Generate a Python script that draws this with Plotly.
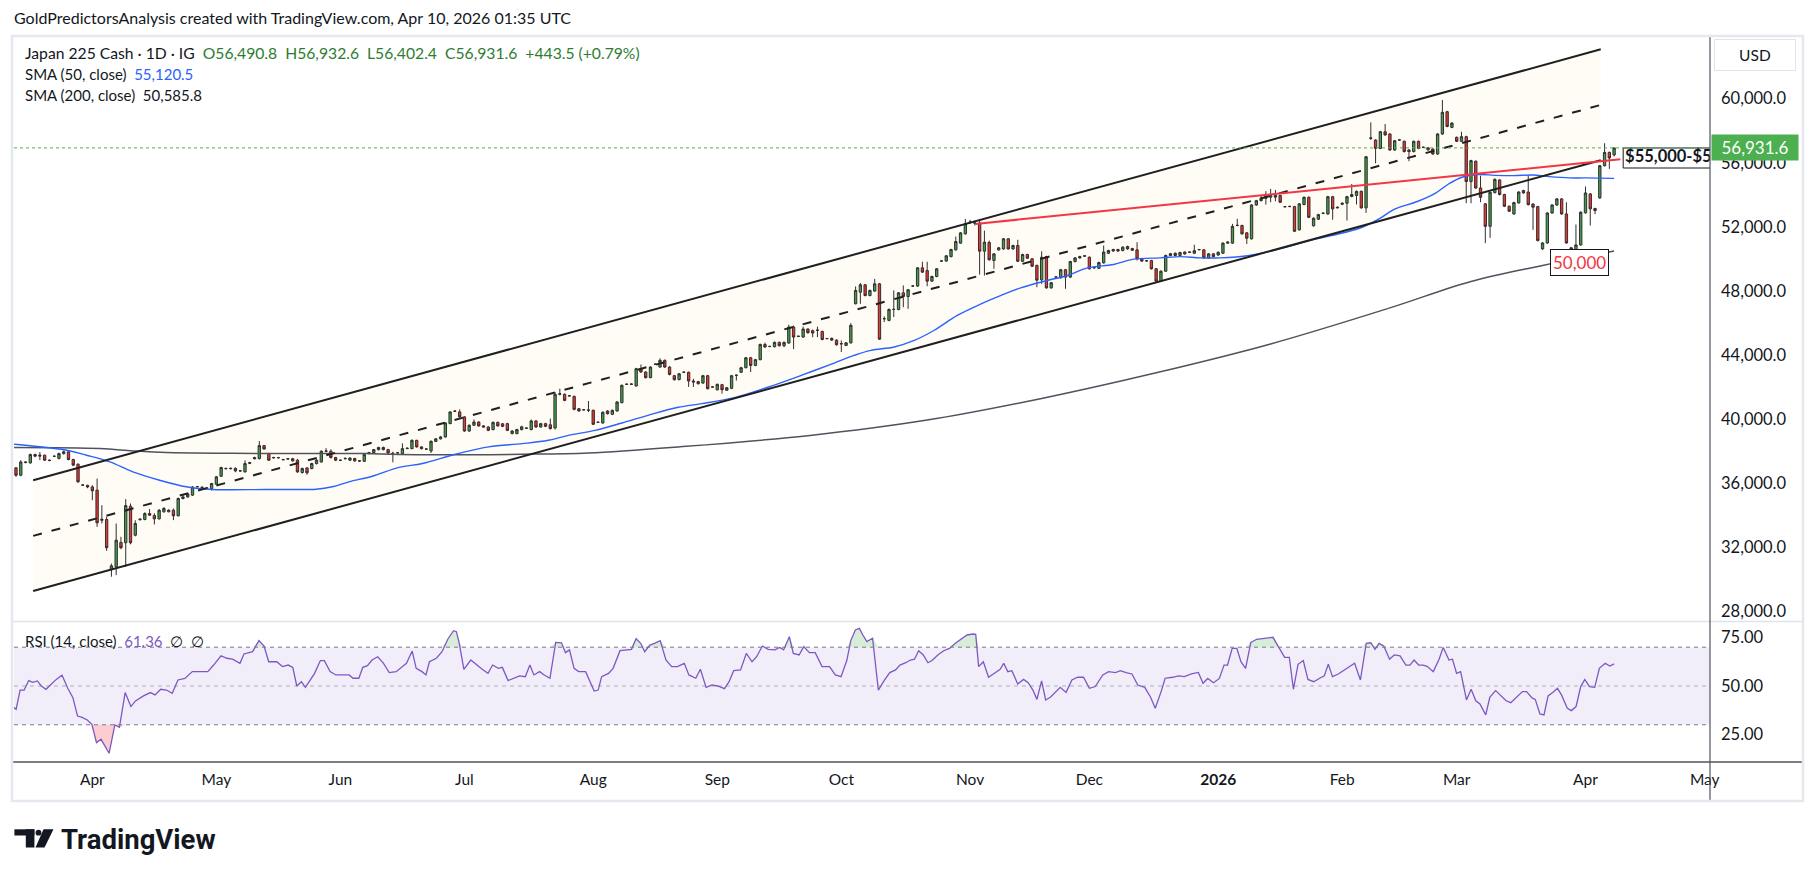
import plotly.graph_objects as go
import pandas as pd

# ---------------- data ----------------
opens = [36970,36510,37300,37280,37800,37700,37760,37450,37700,37560,37860,37970,37490,37200,35890,35880,35780,35580,33700,33750,
30640,30800,32320,32300,34580,32770,33730,33750,34120,34000,33790,34230,34230,34330,33980,35060,35160,35270,35790,35760,
35720,35680,35950,36450,36940,36920,36940,36780,36720,37300,37620,37550,38360,37870,37620,37600,37490,37520,37540,37450,
36680,36970,36930,37240,37340,38010,38010,37610,37450,37540,37450,37550,37410,37380,37860,37920,38110,38240,38110,37880,
37900,37860,38200,38170,38690,38280,38150,38030,38620,38780,38900,39730,40500,40460,40150,39270,39630,39830,39590,39520,
39360,39810,39720,39730,39110,39110,39360,39440,39360,39900,39520,39730,39660,39460,41560,41560,41480,41430,40660,40600,
40560,40560,39820,39770,40520,40310,40520,41040,42180,42180,42080,43160,42950,42600,43430,43260,43680,43260,42720,42480,
42930,42930,42390,42350,42260,42720,42020,41840,42160,41810,41930,42740,42930,43220,43840,43360,43720,44670,44550,44530,
44800,44590,44760,45750,45170,45130,45630,45530,45550,45480,45030,45050,44940,44720,44610,44770,47210,47930,48390,47720,
48000,48450,46270,46170,46850,46850,47890,47660,48310,48310,49450,49280,48620,48910,49870,49870,50150,50570,50990,51570,
52290,52230,52250,50490,51030,49910,50570,50630,51260,50630,50840,49860,50280,50010,49600,48700,50150,48200,48870,48830,
49330,48870,49840,50070,50200,50110,49450,49420,49760,50360,50500,50590,50530,50780,50650,50570,50030,49880,49900,49390,
48620,49240,50220,50360,50220,50430,50420,50360,50580,50570,50070,50320,50250,50360,50990,50990,52090,52090,51630,51260,
53370,53640,53790,53860,53860,53960,53270,53270,53270,51820,53400,53850,52070,52480,52840,52810,53890,53230,53410,53480,
53900,53960,54220,53190,57560,57420,56900,57940,57800,56800,57420,57340,56800,56700,57340,56960,56930,56860,56550,57800,
59190,58210,57590,57340,57630,54830,56100,54430,53440,52040,54140,54930,54020,53290,52810,53500,54270,54180,53430,53270,
50630,51000,52870,53370,53750,52810,50700,50320,50880,52880,54060,53150,53810,55820,56650,56490.8]
highs = [37030,37450,37380,37860,37860,37960,37800,37500,37740,37920,38050,38070,37540,37250,35940,35920,35890,36300,34640,33920,
31000,33500,32670,35020,34750,33700,33820,34200,34400,34140,34400,34520,34380,34440,35120,35320,35380,35830,35840,35830,
35770,36040,36470,37040,36980,36990,37000,36840,37440,37350,37660,38650,38400,37900,37660,37650,37530,37580,37600,37520,
36990,37010,37290,37520,38060,38200,38120,37660,37490,37620,37640,37600,37460,37850,37970,38150,38290,38300,38160,37980,
37950,38500,38250,38740,38720,38320,38190,38680,38830,38960,39810,40500,40560,40620,40200,39680,39990,39880,39640,39570,
39860,39860,39770,39780,39320,39410,39600,39500,39990,39950,39780,39780,40050,41700,41910,41620,41520,41480,40700,40640,
41140,40610,39860,40490,40570,40610,41130,42170,42230,42240,43210,43420,43000,43310,43480,43800,43730,43310,42770,42890,
42980,42980,42530,42400,42770,42770,42060,42230,42210,42020,42770,42790,43270,43890,43890,43770,44720,44780,44590,44850,
44850,44850,45900,45850,45220,45780,45680,45600,45780,45530,45080,45100,44990,44920,44820,46000,48290,48500,48440,48090,
48760,48500,46420,46920,48040,47940,48350,48130,48360,49500,49830,49830,48960,49440,49920,50250,50640,51400,51680,52500,
52440,52400,52500,51770,51150,50370,50750,51310,51310,50890,51200,50330,50330,50060,49650,50480,50200,48570,48920,49380,
49380,49890,50120,50200,50240,50160,49500,49830,50840,50580,50640,50640,50790,50830,50700,51050,50080,49930,49950,49440,
49290,50270,50380,50410,50450,50480,50470,50890,50630,50620,50370,50370,50470,51040,51100,52190,52510,52140,51680,53420,
53690,53950,54230,54370,54310,54010,53310,53320,53320,53490,53900,53900,52600,52820,52900,53940,53940,53280,53530,53940,
54680,54270,54270,56430,58520,57470,57990,58420,57850,57430,57470,57390,56850,57390,57390,57010,56980,56910,57850,59920,
59240,58530,57640,57940,57690,56190,56150,55200,53490,54210,55020,54980,54070,53340,53570,54230,54320,55200,53480,53320,
51050,52920,53420,53800,53800,53540,50750,52150,52970,54520,54110,53200,55870,57220,56700,56932.6]
lows = [36410,36450,37260,37240,37640,37460,37400,37380,37650,37500,37800,37440,37080,36040,35840,35700,34950,33290,33500,31800,
30180,30280,31900,30800,32200,32700,33700,33700,33980,33440,33750,34180,34200,33710,33940,35000,35100,35220,35760,35690,
35650,35550,35900,36400,36880,36870,36700,36720,36680,37200,37500,37490,38100,37400,37560,37560,37440,37480,37360,36660,
36620,36540,36880,37180,37300,37950,37560,37390,37400,37490,37400,37350,37360,37340,37820,37880,38060,38060,37860,37320,
37860,37820,38130,38130,38230,38120,38100,37900,38580,38740,38860,39700,40460,40100,39220,39220,39580,39540,39480,39260,
39310,39540,39510,39260,39060,39060,39300,39400,39310,39470,39480,39510,39360,39360,41490,41130,41420,40560,40470,40550,
40450,39640,39770,39730,40300,40260,40480,41000,42140,42140,42040,42900,42550,42560,43390,43220,43210,42740,42420,42430,
42890,42020,42020,42170,42220,41860,41970,41800,41600,41770,41880,42420,42890,43180,42950,43310,43680,44460,44500,44480,
44540,44500,44710,44380,45130,45080,45350,45120,45130,44930,44990,44890,44600,44200,44560,44720,47170,47210,47670,47670,
47950,44950,46070,46120,46380,46800,46990,46890,48270,48260,49130,48300,48570,48860,49830,49830,50100,50520,50950,51520,
52190,52090,49030,48970,49900,49390,50520,50580,50580,50580,49810,49810,50000,49500,48240,48450,48150,48150,48830,48780,
48140,48820,49790,50020,50140,49340,49400,49370,49710,50310,50450,50450,50480,50580,50500,49910,49820,49840,49340,48570,
48570,49190,50170,50170,50170,50270,50380,50310,50540,50020,50020,50100,50200,50310,50940,50940,52040,51520,50940,51210,
53320,53590,53390,53540,53600,53490,53220,53230,51680,51770,53350,52550,52020,52430,52800,52760,52450,53150,53360,52400,
53850,53400,53140,52880,57430,55970,56850,57690,56750,56750,57380,56650,56100,56650,56850,56920,56760,56500,56500,57750,
58220,58160,57290,57290,53480,53480,54380,53540,50990,51320,54090,53970,53240,52930,52760,53450,54070,53340,51820,51100,
50570,50950,52820,53320,52760,50950,50570,50270,50830,52830,52090,52800,53760,55770,55620,56402.4]
closes = [36510,37340,37330,37800,37700,37760,37450,37430,37690,37860,37970,37490,37140,36100,35900,35780,35540,33540,33760,31990,
30860,32460,31990,34620,32300,33500,33770,34120,34020,33790,34330,34440,34330,33980,35060,35160,35330,35780,35800,35740,
35700,35990,36410,36990,36920,36940,36780,36790,37240,37260,37540,38360,38150,37450,37600,37610,37480,37540,37410,36720,
36930,36660,37240,37450,38010,38020,37610,37450,37440,37560,37580,37410,37400,37800,37920,38110,38240,38110,37900,37870,
37910,38170,38180,38690,38280,38170,38140,38630,38780,38900,39770,40460,40510,40150,39270,39630,39830,39590,39520,39310,
39810,39590,39560,39310,39270,39360,39530,39450,39900,39520,39730,39560,39420,41560,41600,41180,41460,40620,40520,40590,
40580,39690,39810,40440,40350,40560,41080,42120,42190,42200,43160,42950,42600,43260,43440,43680,43260,42800,42470,42840,
42940,42390,42330,42220,42720,41910,42010,42180,41850,41970,42720,42750,43220,43840,43360,43720,44670,44510,44540,44800,
44590,44800,45750,45130,45180,45630,45400,45380,45560,44980,45040,44940,44650,44710,44770,45860,48040,48390,47720,48040,
48450,45000,46280,46850,46860,47890,47660,48080,48320,49450,49180,48620,48910,49390,49880,50200,50590,51090,51630,52190,
52300,52250,50490,51050,49950,50320,50700,51260,50630,50840,49860,50280,50050,49550,48680,50110,48200,48520,48880,49330,
48870,49840,50070,50150,50180,49390,49460,49780,50430,50530,50590,50500,50740,50630,50550,50010,49870,49890,49390,48620,
49240,50220,50330,50220,50400,50320,50430,50520,50590,50070,50320,50150,50420,50990,51050,52040,52100,51570,51300,53370,
53640,53790,53910,53960,53960,53540,53260,53280,51730,53440,53850,52600,52540,52770,52860,53890,53130,53200,53480,53890,
54020,54220,53190,56380,57530,56900,57940,57740,56800,57380,57430,56700,56700,57340,56900,56970,56810,56550,57800,59150,
58270,58480,57340,57630,54830,56140,54430,53850,52040,54160,54970,54020,53290,52980,53520,54180,54120,53390,53230,51150,
51000,52870,53370,53750,52810,51000,50620,50880,52920,54120,53130,53020,55820,56650,56300,56931.6]

sma50_pos = [-0.4,10.6,14.8,19.7,24.5,30.1,35.7,41.3,52.4,58,62.9,66.3,69.8,74.7,80.3,85.2,92.1,99.1,106.1,111.6,
115.8,121.4,127,132.5,138.8,143.7,150.6,157.6,164.6,171.5,175.7,179.2,184.1,188.3,192.4,197.3,202.3,206.5,210.6,216.2,
220.4,224.6,230.1,234.3,239.9,244.1,248.3,252.4,258.5,264.8,271.7,278.7,282.2,285.7,289.1,293.3,297.5,300.3,303.1,306.5,
310,314,318,321.4,325.6,329.1,335]
sma50_val = [38440,38070,37760,37340,36720,36200,35790,35620,35620,35620,35640,35790,36100,36450,37000,37240,37820,38280,38480,38690,
39000,39310,39770,40250,40750,40975,41350,42000,42740,43510,43990,44300,44510,44920,45540,46480,47200,47730,48200,48660,
48970,49450,49660,49990,50070,50150,50070,50070,50220,50630,51190,51670,51980,52500,53130,53540,54100,54680,55100,55270,
55220,55200,55240,55140,55060,55060,55030]

sma200_pos = [-0.4,17.6,24.5,31.5,45.4,59.4,73.3,80.3,106.1,120,138.8,166,191,215,239,263,288,305,320,335]
sma200_val = [38240,38175,38030,37925,37880,37860,37860,37800,37820,37900,38276,38980,39950,41300,42900,44700,46950,48600,49600,50500]

rsi_pos = [-0.70,0.02,0.86,1.70,2.67,3.51,4.47,5.31,6.28,7.24,8.44,9.65,10.85,11.93,12.90,13.74,14.94,15.90,16.87,17.83,
18.67,19.51,20.72,21.68,22.88,24.09,25.05,26.73,28.18,29.14,30.34,31.55,32.75,33.95,35.40,36.96,38.77,40.21,41.42,42.98,
44.18,45.39,46.95,47.79,49.60,50.92,52.00,52.97,54.65,55.86,57.06,58.02,58.86,59.83,60.67,62.59,63.80,64.64,65.84,67.05,
68.25,69.82,70.66,71.86,72.70,73.67,74.63,75.83,77.04,78.24,79.68,80.89,81.85,83.05,83.89,85.10,85.94,86.66,88.11,89.31,
90.51,91.72,92.32,92.92,93.88,95.33,96.53,97.73,98.94,99.90,101.10,101.95,103.15,104.35,105.56,106.76,107.72,108.56,109.77,110.73,
111.93,113.13,114.34,115.18,116.02,116.99,117.95,119.40,120.36,121.20,122.04,122.76,124.21,125.17,126.61,128.06,129.02,129.99,130.95,131.79,
132.87,133.84,135.04,136.24,137.44,138.65,140.09,141.05,142.50,143.46,144.66,145.87,147.07,148.51,149.48,150.44,151.88,153.09,154.29,155.25,
156.46,157.66,159.10,160.07,160.91,162.11,162.95,164.16,165.12,166.32,167.53,168.97,170.54,171.74,172.95,174.15,174.99,175.95,176.79,177.52,
178.36,179.56,180.77,181.97,183.17,184.38,
185.30,186.52,187.50,188.35,189.21,190.19,191.16,192.02,193.24,194.46,195.68,196.91,198.13,199.35,200.57,201.18,201.79,202.77,203.87,205.09,
206.31,207.05,207.90,208.76,209.98,211.20,212.18,213.16,214.01,214.99,215.84,216.82,217.68,218.90,220.12,221.34,222.56,223.78,225.01,226.23,
227.82,229.04,230.50,231.48,232.70,233.93,235.15,236.61,237.84,238.81,240.04,240.89,242.48,243.70,244.92,246.39,247.85,248.83,249.81,251.03,
252.25,253.23,253.96,254.94,255.92,256.77,257.75,258.85,260.07,261.66,263.49,264.71,265.94,266.91,267.77,268.75,269.84,270.82,272.04,273.27,
274.24,275.10,275.95,277.18,278.40,279.38,280.60,281.82,283.04,284.02,284.87,285.73,286.71,287.93,288.91,290.13,291.35,292.20,293.06,294.04,
295.01,295.87,297.09,298.31,299.17,300.39,301.12,301.98,302.83,304.05,305.03,306.01,306.87,308.09,308.94,310.16,311.14,312.36,313.34,314.56,
315.78,316.64,317.86,318.47,319.45,320.30,321.16,322.14,323.12,323.97,325.19,326.05,327.02,328.00,328.86,329.83,330.93,331.91,333.13,334.11,335.0]
rsi_val = [39.4,38.0,47.9,47.9,52.8,51.9,52.6,50.0,48.3,50.7,53.4,55.5,48.8,44.0,34.5,33.9,32.5,30.2,20.8,22.5,
18.7,15.3,29.9,28.7,46.6,39.4,42.3,44.9,46.6,45.4,48.3,47.9,46.2,53.1,53.9,57.4,57.4,57.4,60.8,65.6,
64.3,63.8,61.7,66.5,67.7,73.4,70.6,62.5,62.5,60.0,60.8,59.6,50.0,52.2,49.3,56.5,63.1,63.1,57.4,55.7,
55.7,55.7,54.0,54.0,59.6,60.5,63.4,65.1,61.7,56.9,57.4,60.0,61.7,68.0,59.1,57.4,55.7,62.5,64.3,67.7,
74.1,78.5,78.0,72.0,58.6,63.4,60.8,58.6,56.5,60.8,59.1,59.6,52.8,54.0,55.2,54.8,60.8,55.7,57.4,55.7,
54.0,72.5,72.3,67.2,68.6,59.1,57.4,57.4,52.2,47.4,47.9,54.8,56.5,59.1,68.2,68.6,68.9,74.4,72.0,67.7,
71.1,72.0,73.4,63.4,60.0,60.0,61.7,55.7,54.0,58.6,49.3,50.5,50.0,48.6,52.2,57.9,58.3,66.8,62.5,65.1,
70.6,68.9,68.6,69.9,68.6,75.4,66.8,66.0,70.3,67.2,67.2,60.0,60.0,55.7,54.8,63.1,73.4,78.9,79.7,76.3,
72.9,74.6,47.9,52.8,56.9,58.3,
60.8,62.0,63.4,63.8,68.2,66.0,62.0,63.1,66.0,68.2,69.4,72.0,74.1,76.3,76.8,76.6,60.0,62.5,54.5,56.5,
58.6,61.7,57.4,57.9,51.0,53.4,51.7,47.9,43.1,52.6,42.8,44.2,46.2,49.3,46.7,53.1,54.5,54.5,48.8,49.7,
55.7,57.4,56.9,57.9,56.9,56.2,50.5,49.3,44.2,38.5,47.1,54.0,54.5,55.2,54.8,56.2,57.0,51.4,53.9,51.7,
53.9,60.8,60.8,69.4,69.4,62.5,59.1,72.5,74.1,74.4,75.1,69.9,64.8,64.8,48.3,61.2,63.1,53.4,52.2,54.0,
55.2,61.3,54.8,56.2,58.3,60.0,61.7,53.1,72.0,72.3,68.9,72.0,70.6,63.8,66.0,65.5,60.8,60.8,63.4,60.8,
60.8,60.0,57.4,63.8,69.9,63.4,63.8,56.5,57.4,42.8,48.3,42.4,40.7,35.1,44.2,47.6,45.4,42.4,41.4,44.2,
47.1,47.1,43.7,43.1,35.6,35.1,44.9,46.6,48.8,45.4,38.5,37.3,39.4,49.7,53.4,49.7,49.3,59.1,61.7,60.3,61.4]

# trend-channel drawing anchors (bar position, price)
channel_pos = [3.6, 332.2]
channel_upper = [36200, 63080]
channel_mid = [32730, 59610]
channel_lower = [29285, 56165]
red_line_pos = [201.1, 336.3]
red_line_val = [52190, 56220]

price_ticks = [28000, 32000, 36000, 40000, 44000, 48000, 52000, 56000, 60000]
rsi_ticks = [25, 50, 75]
last_price = 56931.6
zone_label = "$55,000-$56,000"
zone_label_pos = (337.3, 56300)
zone_box = (336.9, 55677, 56925)
support_label = "50,000"
support_label_pos = (327.7, 49813)

# bar calendar (daily bars, Saturdays closed, Good Friday 2026 closed)
days = [d for d in pd.date_range("2025-03-13", "2026-05-10", freq="D")
        if d.weekday() != 5 and d != pd.Timestamp("2026-04-03")]
tick_pos, tick_txt = [], []
for k in range(1, len(days)):
    if days[k].month != days[k - 1].month:
        tick_pos.append(k)
        tick_txt.append("<b>2026</b>" if days[k].month == 1 else days[k].strftime("%b"))

# ---------------- layout helpers ----------------
W, H = 1814, 877
L, R, T, B = 14, 1710, 37, 762
def px(x): return (x - L) / (R - L)
def py(y): return (B - y) / (B - T)

FONT = "Lato, 'Noto Sans', sans-serif"
TXT = "#131722"
XR = [-0.42, 355.1]

fig = go.Figure()
bars = list(range(len(closes)))

fig.add_trace(go.Candlestick(
    x=bars, open=opens, high=highs, low=lows, close=closes,
    increasing=dict(fillcolor="#43a047", line=dict(color="#2f2f2f", width=1)),
    decreasing=dict(fillcolor="#e53935", line=dict(color="#3a2a2a", width=1)),
    whiskerwidth=0, showlegend=False, hoverinfo="skip", xaxis="x", yaxis="y"))

fig.add_trace(go.Scatter(x=sma200_pos, y=sma200_val, mode="lines", line=dict(color="#50535e", width=1.5, shape="spline"),
                         xaxis="x", yaxis="y", hoverinfo="skip", showlegend=False))
fig.add_trace(go.Scatter(x=sma50_pos, y=sma50_val, mode="lines", line=dict(color="#2962ff", width=1.4, shape="spline"),
                         xaxis="x", yaxis="y", hoverinfo="skip", showlegend=False))

for vals, dash in [(channel_upper, "solid"), (channel_lower, "solid"), (channel_mid, "9px,10px")]:
    fig.add_trace(go.Scatter(x=channel_pos, y=vals, mode="lines", line=dict(color="#1f1f1f", width=2, dash=dash),
                             xaxis="x", yaxis="y", hoverinfo="skip", showlegend=False))
fig.add_trace(go.Scatter(x=red_line_pos, y=red_line_val, mode="lines", line=dict(color="#f23645", width=2),
                         xaxis="x", yaxis="y", hoverinfo="skip", showlegend=False))

fig.add_trace(go.Scatter(x=[zone_label_pos[0]], y=[zone_label_pos[1]], mode="text", text=[zone_label],
                         textposition="middle right", cliponaxis=True,
                         textfont=dict(family=FONT, size=16.5, color=TXT, weight="bold"),
                         xaxis="x", yaxis="y", hoverinfo="skip", showlegend=False))

# RSI pane
over = [max(v, 70) for v in rsi_val]
under = [min(v, 30) for v in rsi_val]
fig.add_trace(go.Scatter(x=rsi_pos, y=[70] * len(rsi_pos), mode="lines", line=dict(width=0),
                         xaxis="x", yaxis="y2", hoverinfo="skip", showlegend=False))
fig.add_trace(go.Scatter(x=rsi_pos, y=over, mode="lines", line=dict(width=0), fill="tonexty",
                         fillcolor="rgba(76,175,80,0.22)", xaxis="x", yaxis="y2", hoverinfo="skip", showlegend=False))
fig.add_trace(go.Scatter(x=rsi_pos, y=[30] * len(rsi_pos), mode="lines", line=dict(width=0),
                         xaxis="x", yaxis="y2", hoverinfo="skip", showlegend=False))
fig.add_trace(go.Scatter(x=rsi_pos, y=under, mode="lines", line=dict(width=0), fill="tonexty",
                         fillcolor="rgba(242,54,69,0.25)", xaxis="x", yaxis="y2", hoverinfo="skip", showlegend=False))
fig.add_trace(go.Scatter(x=rsi_pos, y=rsi_val, mode="lines", line=dict(color="#7e57c2", width=1.3),
                         xaxis="x", yaxis="y2", hoverinfo="skip", showlegend=False))

shapes = []
# channel background
shapes.append(dict(type="path", xref="x", yref="y", layer="below",
                   path=f"M {channel_pos[0]},{channel_lower[0]} L {channel_pos[0]},{channel_upper[0]} "
                        f"L {channel_pos[1]},{channel_upper[1]} L {channel_pos[1]},{channel_lower[1]} Z",
                   fillcolor="rgba(255,240,200,0.17)", line=dict(width=0)))
# zone label box (clipped at the price scale), under its text
shapes.append(dict(type="rect", xref="x", yref="y", x0=zone_box[0], x1=XR[1] + 5, y0=zone_box[1], y1=zone_box[2],
                   fillcolor="white", line=dict(color="#131722", width=1), layer="below"))
# RSI band + levels
shapes.append(dict(type="rect", xref="paper", yref="y2", x0=0, x1=1, y0=30, y1=70, layer="below",
                   fillcolor="rgba(126,87,194,0.10)", line=dict(width=0)))
for lvl, col in [(70, "#787b86"), (50, "rgba(120,123,134,0.55)"), (30, "#787b86")]:
    shapes.append(dict(type="line", xref="paper", yref="y2", x0=0, x1=1, y0=lvl, y1=lvl,
                       line=dict(color=col, width=1, dash="4px,4px")))
# last price line
shapes.append(dict(type="line", xref="paper", yref="y", x0=0, x1=1, y0=last_price, y1=last_price,
                   line=dict(color="#4caf50", width=1, dash="dot")))
# panel frame lines
shapes.append(dict(type="line", xref="paper", yref="paper", x0=px(12), x1=px(1803), y0=py(621.5), y1=py(621.5),
                   line=dict(color="#e0e3eb", width=1.5)))
shapes.append(dict(type="line", xref="paper", yref="paper", x0=px(12), x1=px(1803), y0=py(762), y1=py(762),
                   line=dict(color="#50535e", width=1.5)))
shapes.append(dict(type="line", xref="paper", yref="paper", x0=1, x1=1, y0=py(802), y1=py(36),
                   line=dict(color="#50535e", width=1.2)))
shapes.append(dict(type="rect", xref="paper", yref="paper", x0=px(12), x1=px(1803), y0=py(801), y1=py(36),
                   line=dict(color="#e6e8ef", width=2.5), fillcolor="rgba(0,0,0,0)"))
# TradingView logo mark
shapes.append(dict(type="rect", xref="paper", yref="paper", x0=px(14.4), x1=px(34.4), y0=py(835.5), y1=py(829.3),
                   fillcolor="#131722", line=dict(width=0)))
shapes.append(dict(type="rect", xref="paper", yref="paper", x0=px(25.8), x1=px(34.4), y0=py(847.5), y1=py(829.3),
                   fillcolor="#131722", line=dict(width=0)))
shapes.append(dict(type="circle", xref="paper", yref="paper", x0=px(35.6), x1=px(41.4), y0=py(835.6), y1=py(829.8),
                   fillcolor="#131722", line=dict(width=0)))
shapes.append(dict(type="path", xref="paper", yref="paper",
                   path=f"M {px(43.5)},{py(829.3)} L {px(53.5)},{py(829.3)} L {px(44.5)},{py(847.5)} L {px(35.5)},{py(847.5)} Z",
                   fillcolor="#131722", line=dict(width=0)))

S = "\u00a0"
green = "#2e7d32"
ann = []
def note(text, x, y, size=15, color=TXT, xanchor="left", **kw):
    ann.append(dict(text=text, xref="paper", yref="paper", x=px(x), y=py(y), xanchor=xanchor, yanchor="middle",
                    showarrow=False, font=dict(family=FONT, size=size, color=color), **kw))

note("GoldPredictorsAnalysis created with TradingView.com, Apr 10, 2026 01:35 UTC", 12, 18, size=16)
note(f"Japan 225 Cash · 1D · IG{S}{S}<span style='color:{green}'>O56,490.8{S}{S}H56,932.6{S}{S}L56,402.4{S}{S}"
     f"C56,931.6{S}{S}+443.5 (+0.79%)</span>", 23, 53, size=15.7)
note(f"SMA (50, close){S}{S}<span style='color:#2962ff'>55,120.5</span>", 23, 74)
note(f"SMA (200, close){S}{S}50,585.8", 23, 95)
note(f"RSI (14, close){S}{S}<span style='color:#7e57c2'>61.36</span>{S}{S}∅{S}{S}∅", 23, 641)
note("USD", 1755, 55, size=15.5, xanchor="center", bgcolor="white", bordercolor="#e0e3eb", borderwidth=1,
     width=72, height=22, borderpad=4)
ann.append(dict(text="56,931.6", xref="paper", yref="y", x=px(1711), y=last_price, xanchor="left", yanchor="middle",
                showarrow=False, bgcolor="#4caf50", font=dict(family=FONT, size=17, color="white"),
                width=80, height=19, borderpad=3, align="center"))
ann.append(dict(text=support_label, xref="x", yref="y", x=support_label_pos[0], y=support_label_pos[1],
                xanchor="center", yanchor="middle", showarrow=False, bgcolor="white", bordercolor="#131722",
                borderwidth=1, borderpad=2, font=dict(family=FONT, size=17, color="#f23645")))
ann.append(dict(text="<b>TradingView</b>", xref="paper", yref="paper", x=px(59), y=py(839), xanchor="left",
                yanchor="middle", showarrow=False, font=dict(family="Roboto, sans-serif", size=27.5, color="#131722")))

fig.update_layout(
    width=W, height=H, margin=dict(l=L, r=W - R, t=T, b=H - B),
    paper_bgcolor="white", plot_bgcolor="white", hovermode=False, showlegend=False,
    font=dict(family=FONT, size=15, color=TXT),
    xaxis=dict(range=XR, anchor="y2", tickvals=tick_pos, ticktext=tick_txt, showgrid=False, zeroline=False,
               showline=False, ticks="", ticklabelstandoff=6, tickfont=dict(size=15.5, color=TXT),
               rangeslider=dict(visible=False), fixedrange=True),
    yaxis=dict(domain=[(B - 621) / (B - T), 1], range=[27418, 63849], side="right", anchor="x",
               tickvals=price_ticks, tickformat=",.1f", showgrid=False, zeroline=False, showline=False,
               ticks="", ticklabelstandoff=10, tickfont=dict(size=16.5, color=TXT)),
    yaxis2=dict(domain=[0, (B - 622) / (B - T)], range=[10.8, 83], side="right", anchor="x",
                tickvals=rsi_ticks, tickformat=".2f", showgrid=False, zeroline=False, showline=False,
                ticks="", ticklabelstandoff=10, tickfont=dict(size=16.5, color=TXT)),
    shapes=shapes, annotations=ann,
)

fig.write_html("out.html")
